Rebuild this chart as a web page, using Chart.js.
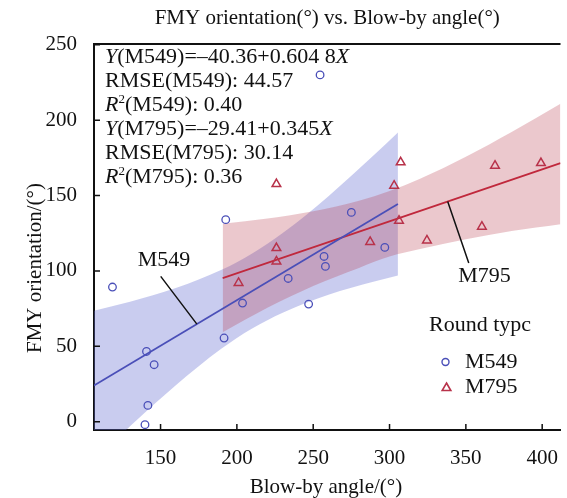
<!DOCTYPE html>
<html>
<head>
<meta charset="utf-8">
<script src="https://cdn.jsdelivr.net/npm/chart.js@4.4.1/dist/chart.umd.min.js"></script>
<style>
    html, body { margin: 0; padding: 0; background: #fff; }
</style>
</head>
<body>
<canvas id="chart" width="567" height="498"></canvas>
<script>

const xTicks = [ 150, 200, 250, 300, 350, 400 ];
const yTicks = [ 0, 50, 100, 150, 200, 250 ];

// measured samples per round type
const m549X = [ 118.5, 140.8, 145.8, 141.7, 139.8, 192.7, 191.6, 203.7, 233.6, 247.0, 257.1, 258.0, 275.0, 296.9, 254.5 ];
const m549Y = [ 89.3, 46.6, 37.8, 10.8, -2.0, 134.0, 55.5, 78.7, 95.0, 78.0, 109.6, 103.0, 138.8, 115.6, 230.0 ];
const m795X = [ 225.9, 225.9, 225.9, 201.1, 307.3, 303.0, 306.2, 287.3, 324.5, 360.5, 369.1, 399.2 ];
const m795Y = [ 157.6, 115.2, 106.3, 92.0, 172.0, 156.5, 133.3, 119.2, 120.2, 129.3, 169.8, 171.5 ];

// fitted lines: [ intercept, slope ] and the x span they are drawn over
const m549Fit = [ -40.36, 0.6048 ];
const m549Span = [ 106.4, 305.5 ];
const m795Fit = [ 29.41, 0.345 ];
const m795Span = [ 190.7, 412 ];

// confidence bands around the fits
const m549BandX = [ 106.4, 130, 160, 190, 210, 230, 260, 290, 305.5 ];
const m549BandHi = [ 73.6, 79.6, 88.6, 100.7, 111.6, 125.1, 149.6, 177.0, 191.8 ];
const m549BandLo = [ -25.6, -3.0, 24.2, 48.5, 61.8, 72.3, 84.2, 93.0, 97.0 ];
const m795BandX = [ 190.7, 220, 250, 280, 300, 320, 350, 380, 412 ];
const m795BandHi = [ 131.3, 134.7, 139.5, 146.5, 153.0, 161.1, 175.7, 192.1, 210.8 ];
const m795BandLo = [ 59.3, 75.5, 90.0, 102.0, 109.5, 114.5, 121.0, 126.5, 131.0 ];

const statLines = [
    [ { t: 'Y', it: true }, { t: '(M549)=–40.36+0.604 8' }, { t: 'X', it: true } ],
    [ { t: 'RMSE(M549): 44.57' } ],
    [ { t: 'R', it: true }, { t: '2', sup: true }, { t: '(M549): 0.40' } ],
    [ { t: 'Y', it: true }, { t: '(M795)=–29.41+0.345' }, { t: 'X', it: true } ],
    [ { t: 'RMSE(M795): 30.14' } ],
    [ { t: 'R', it: true }, { t: '2', sup: true }, { t: '(M795): 0.36' } ]
];

const BLUE = '#4a4fb8';
const RED = '#b8324a';
const FONT = '"Liberation Serif", "Times New Roman", serif';

const pts = ( xs, ys ) => xs.map( ( x, i ) => ( { x, y: ys[ i ] } ) );
const fitLine = ( fit, span ) => span.map( x => ( { x, y: fit[ 0 ] + fit[ 1 ] * x } ) );

function drawRuns ( ctx, x, y, runs, size ) {
    for ( const r of runs ) {
        ctx.font = `${ r.it ? 'italic ' : '' }${ r.sup ? Math.round( size * 0.6 ) : size }px ${ FONT }`;
        ctx.fillText( r.t, x, r.sup ? y - size * 0.36 : y );
        x += ctx.measureText( r.t ).width;
    }
}

function legendMarker ( ctx, style, radius, color, lw, px, py ) {
    ctx.save();
    ctx.fillStyle = 'rgba(0,0,0,0)';
    ctx.strokeStyle = color;
    ctx.lineWidth = lw;
    Chart.helpers.drawPoint( ctx, { pointStyle: style, radius, borderWidth: lw }, px, py );
    ctx.restore();
}

const decor = {
    id: 'decor',
    afterDatasetsDraw ( chart ) {
        const { ctx, chartArea: a, scales: { x, y } } = chart;
        ctx.save();

        // inward tick marks and top frame
        ctx.strokeStyle = '#111';
        ctx.lineWidth = 1.5;
        ctx.beginPath();
        xTicks.forEach( v => { const px = x.getPixelForValue( v ); ctx.moveTo( px, a.bottom ); ctx.lineTo( px, a.bottom - 6 ); } );
        yTicks.forEach( v => { const py = y.getPixelForValue( v ); ctx.moveTo( a.left, py ); ctx.lineTo( a.left + 6, py ); } );
        ctx.stroke();
        ctx.lineWidth = 2;
        ctx.beginPath();
        ctx.moveTo( a.left - 1, a.top );
        ctx.lineTo( a.right, a.top );
        ctx.stroke();

        // leader lines to the fits
        ctx.lineWidth = 1.5;
        ctx.beginPath();
        ctx.moveTo( x.getPixelForValue( 150.1 ), y.getPixelForValue( 96.4 ) );
        ctx.lineTo( x.getPixelForValue( 173.8 ), y.getPixelForValue( 64.7 ) );
        ctx.moveTo( x.getPixelForValue( 338.1 ), y.getPixelForValue( 146.1 ) );
        ctx.lineTo( x.getPixelForValue( 351.9 ), y.getPixelForValue( 105.2 ) );
        ctx.stroke();

        ctx.fillStyle = '#111';
        ctx.textAlign = 'center';
        ctx.textBaseline = 'middle';
        ctx.font = `22px ${ FONT }`;
        ctx.fillText( 'M549', x.getPixelForValue( 152.3 ), y.getPixelForValue( 107.4 ) );
        ctx.fillText( 'M795', x.getPixelForValue( 362.2 ), y.getPixelForValue( 96.4 ) );

        // titles
        ctx.font = `21px ${ FONT }`;
        ctx.fillText( 'FMY orientation(°) vs. Blow-by angle(°)', ( a.left + a.right ) / 2, 18 );
        ctx.fillText( 'Blow-by angle/(°)', 326, 487 );
        ctx.save();
        ctx.translate( 35, 268 );
        ctx.rotate( -Math.PI / 2 );
        ctx.fillText( 'FMY orientation/(°)', 0, 0 );
        ctx.restore();

        // legend
        ctx.font = `22px ${ FONT }`;
        ctx.fillText( 'Round typc', 480, 325 );
        ctx.textAlign = 'left';
        ctx.fillText( 'M549', 465, 362 );
        ctx.fillText( 'M795', 465, 387 );
        legendMarker( ctx, 'circle', 3.5, BLUE, 1.4, 445.5, 362 );
        legendMarker( ctx, 'triangle', 5, RED, 1.6, 446.5, 388 );

        // fit statistics
        ctx.fillStyle = '#111';
        ctx.textAlign = 'left';
        ctx.textBaseline = 'alphabetic';
        statLines.forEach( ( runs, i ) => drawRuns( ctx, 105, 63 + i * 24, runs, 22 ) );

        ctx.restore();
    }
};

const band = ( xs, vals, extra ) => Object.assign( {
    data: pts( xs, vals ),
    showLine: true,
    borderWidth: 0,
    pointRadius: 0,
    cubicInterpolationMode: 'monotone',
    fill: false
}, extra );

new Chart( document.getElementById( 'chart' ), {
    type: 'line',
    data: {
        datasets: [ {
            label: 'M549',
            data: pts( m549X, m549Y ),
            showLine: false,
            pointStyle: 'circle',
            pointRadius: 3.8,
            pointBorderWidth: 1.3,
            pointBorderColor: BLUE,
            pointBackgroundColor: 'rgba(0,0,0,0)'
        }, {
            label: 'M795',
            data: pts( m795X, m795Y ),
            showLine: false,
            pointStyle: 'triangle',
            pointRadius: 5,
            pointBorderWidth: 1.5,
            pointBorderColor: RED,
            pointBackgroundColor: 'rgba(0,0,0,0)'
        }, {
            data: fitLine( m549Fit, m549Span ),
            borderColor: BLUE,
            borderWidth: 1.8,
            pointRadius: 0
        }, {
            data: fitLine( m795Fit, m795Span ),
            borderColor: '#c0283c',
            borderWidth: 1.8,
            pointRadius: 0
        },
        band( m795BandX, m795BandLo ),
        band( m795BandX, m795BandHi, { fill: 4, backgroundColor: 'rgba(180,50,70,0.27)' } ),
        band( m549BandX, m549BandLo ),
        band( m549BandX, m549BandHi, { fill: 6, backgroundColor: 'rgba(100,110,210,0.35)' } )
        ]
    },
    options: {
        responsive: false,
        animation: false,
        events: [],
        layout: { padding: { top: 44, right: 0, left: 0, bottom: 0 } },
        plugins: {
            legend: { display: false },
            tooltip: { enabled: false }
        },
        scales: {
            x: {
                type: 'linear',
                min: 106.4,
                max: 412,
                afterBuildTicks: s => { s.ticks = xTicks.map( value => ( { value } ) ); },
                afterFit: s => { s.height = 68; },
                grid: { display: false },
                border: { display: true, color: '#111', width: 2 },
                ticks: { color: '#111', padding: 8, maxRotation: 0, autoSkip: false, font: { family: FONT, size: 21 } }
            },
            y: {
                type: 'linear',
                min: -5.5,
                max: 250.5,
                afterBuildTicks: s => { s.ticks = yTicks.map( value => ( { value } ) ); },
                afterFit: s => { s.width = 94; },
                grid: { display: false },
                border: { display: true, color: '#111', width: 2 },
                ticks: { color: '#111', padding: 9, autoSkip: false, font: { family: FONT, size: 21 } }
            }
        }
    },
    plugins: [ decor ]
} );

</script>
</body>
</html>
